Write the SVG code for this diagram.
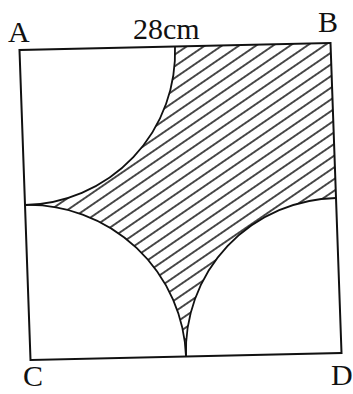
<svg xmlns="http://www.w3.org/2000/svg" width="353" height="394" viewBox="0 0 353 394">
<style>
.lbl{font-family:"Liberation Serif","Times New Roman",serif;font-size:30px;fill:#111}
.edge{fill:none;stroke:#111;stroke-width:2;stroke-linejoin:miter}
.arc{fill:none;stroke:#111;stroke-width:1.8}
.hatch{stroke:#111;stroke-width:1.5}
</style>
<defs>
<pattern id="hatch" patternUnits="userSpaceOnUse" width="20" height="9.6" patternTransform="rotate(-33)">
<line class="hatch" x1="-2" y1="4.8" x2="22" y2="4.8"/>
</pattern>
</defs>
<rect width="353" height="394" fill="#fff"/>
<g transform="matrix(1 -0.0225 0.0354 0.9968 19.5 50)">
<g id="shaded">
<path d="M155.5,0 L311,0 L311,155.5 A155.5,155.5 0 0 0 155.5,311 A155.5,155.5 0 0 0 0,155.5 A155.5,155.5 0 0 0 155.5,0 Z" fill="url(#hatch)" stroke="none"/>
</g>
<g id="arcs">
<path class="arc" d="M155.5,0 A155.5,155.5 0 0 1 0,155.5"/>
<path class="arc" d="M0,155.5 A155.5,155.5 0 0 1 155.5,311"/>
<path class="arc" d="M155.5,311 A155.5,155.5 0 0 1 311,155.5"/>
</g>
<g id="square">
<rect class="edge" x="0" y="0" width="311" height="311"/>
</g>
</g>
<g id="labels">
<text class="lbl" x="8" y="42">A</text>
<text class="lbl" x="133" y="39">28cm</text>
<text class="lbl" x="318" y="32">B</text>
<text class="lbl" x="23" y="386">C</text>
<text class="lbl" x="331" y="385">D</text>
</g>
</svg>
